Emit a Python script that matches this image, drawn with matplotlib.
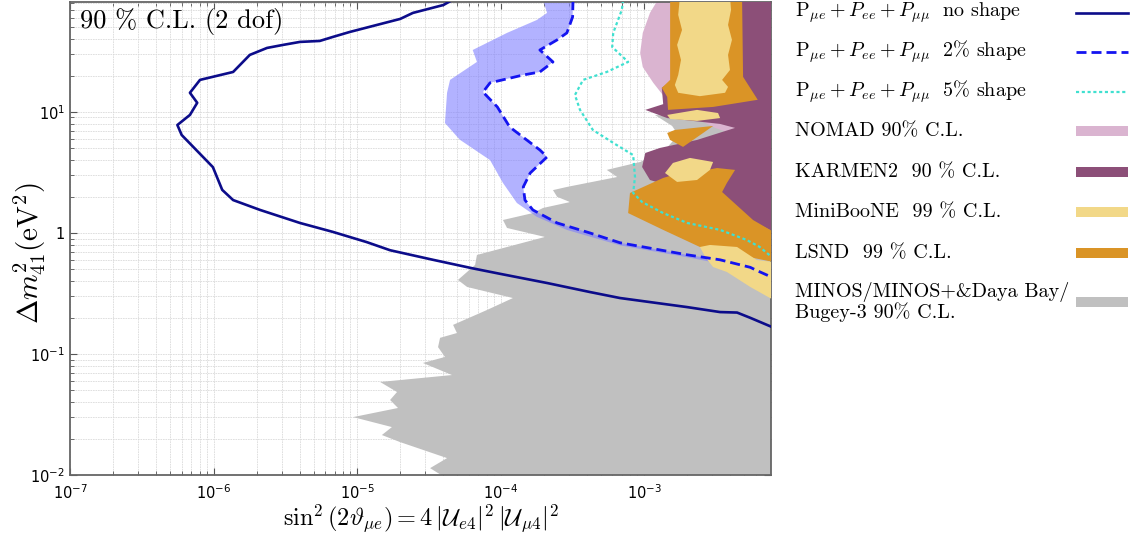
import matplotlib
matplotlib.use("Agg")
import matplotlib.pyplot as plt
from matplotlib.lines import Line2D
from matplotlib.patches import Rectangle
from matplotlib.ticker import NullFormatter

plt.rcParams["mathtext.fontset"] = "cm"
plt.rcParams["axes.unicode_minus"] = False

# ── data (sin^2(2theta_mue), dm^2_41 [eV^2]) ────────────────────────────────

# P_mue + P_ee + P_mumu, no shape
ns_x = [4.6e-5, 4.0e-5, 2.45e-5, 2.0e-5, 1.38e-5, 8.9e-6, 6.8e-6, 5.5e-6, 4.0e-6,
        3.05e-6, 2.36e-6, 1.79e-6, 1.37e-6, 8.05e-7, 6.85e-7, 7.7e-7, 6.85e-7,
        5.6e-7, 6.0e-7, 9.9e-7, 1.15e-6, 1.37e-6, 2.11e-6, 4.0e-6, 6.8e-6,
        1.17e-5, 1.70e-5, 3.39e-5, 6.4e-5, 9.9e-5, 2.11e-4, 4.2e-4, 6.8e-4,
        2.0e-3, 3.39e-3, 4.45e-3, 5.5e-3, 7.8e-3]
ns_y = [84, 76.5, 65.8, 58.7, 52.4, 45.8, 41.7, 38.6, 37.9, 35.8, 33.8, 29.6,
        21.4, 18.4, 14.4, 11.9, 9.45, 7.8, 6.45, 3.5, 2.27, 1.87, 1.55, 1.21,
        1.02, 0.84, 0.72, 0.60, 0.51, 0.46, 0.386, 0.325, 0.29, 0.244, 0.222,
        0.220, 0.199, 0.167]

# 2% shape
s2_x = [3.2e-4, 3.18e-4, 2.9e-4, 2.48e-4, 1.88e-4, 2.32e-4, 1.88e-4, 1.44e-4,
        8.45e-5, 7.55e-5, 9.5e-5, 1.16e-4, 1.88e-4, 2.11e-4, 1.61e-4, 1.44e-4,
        1.48e-4, 1.68e-4, 2.48e-4, 4.2e-4, 6.8e-4, 2.0e-3, 3.39e-3, 5.5e-3,
        6.1e-3, 7.8e-3]
s2_y = [84, 61, 45, 39.4, 32.5, 25.9, 21.4, 20.2, 17.4, 14.6, 11.0, 7.5, 4.85,
        4.25, 3.13, 2.4, 1.87, 1.55, 1.21, 1.0, 0.83, 0.66, 0.60, 0.52, 0.49,
        0.43]

# left edge of the 2% band
band_x = [1.98e-4, 2.11e-4, 1.79e-4, 1.11e-4, 6.4e-5, 6.85e-5, 4.45e-5, 4.24e-5,
          4.1e-5, 5.2e-5, 8.45e-5, 1.04e-4, 1.30e-4, 1.79e-4, 2.9e-4, 6.8e-4,
          2.0e-3, 5.5e-3, 7.8e-3]
band_y = [84, 65.8, 57.5, 45, 32.5, 25.9, 18.4, 14.4, 8.1, 5.9, 4.0, 2.59, 1.77,
          1.36, 1.06, 0.79, 0.63, 0.50, 0.41]

# 5% shape
s5_x = [7.15e-4, 7.0e-4, 6.1e-4, 6.0e-4, 7.75e-4, 5.5e-4, 3.76e-4, 3.3e-4,
        3.58e-4, 4.4e-4, 6.1e-4, 8.4e-4, 8.65e-4, 8.4e-4, 9.7e-4, 1.36e-3,
        2.0e-3, 3.39e-3, 5.2e-3, 6.4e-3, 7.8e-3]
s5_y = [84, 69.7, 45, 34.4, 25.9, 21.4, 18.4, 13.8, 10.4, 7.1, 5.55, 4.4, 2.9,
        2.14, 1.8, 1.46, 1.21, 1.06, 0.875, 0.766, 0.63]

# MINOS/MINOS+ & Daya Bay / Bugey-3
minos_x = [4.45e-5, 3.23e-5, 4.24e-5, 2.0e-5, 1.49e-5, 1.75e-5, 9.4e-6, 1.93e-5,
           1.70e-5, 1.90e-5, 1.45e-5, 4.59e-5, 2.88e-5, 4.10e-5, 3.67e-5,
           3.79e-5, 4.97e-5, 4.67e-5, 8.05e-5, 1.22e-4, 5.85e-5, 5.05e-5,
           6.65e-5, 6.85e-5, 2.04e-4, 1.11e-4, 1.04e-4, 1.68e-4, 1.98e-4,
           3.05e-4, 2.48e-4, 2.32e-4, 2.9e-4, 6.5e-4, 5.5e-4, 9.4e-4, 1.40e-3,
           1.73e-3, 1.57e-3, 1.19e-3, 2.45e-3, 8e-3, 8e-3]
minos_y = [0.009, 0.0114, 0.0138, 0.0187, 0.0214, 0.0249, 0.0301, 0.0358,
           0.0417, 0.0485, 0.0587, 0.067, 0.0843, 0.0945, 0.114, 0.136, 0.149,
           0.174, 0.231, 0.290, 0.358, 0.409, 0.544, 0.658, 0.927, 1.10, 1.28,
           1.46, 1.61, 1.80, 1.99, 2.26, 2.40, 2.90, 3.32, 3.86, 4.85, 6.45,
           7.66, 9.45, 8.9, 10.0, 0.009]

# NOMAD
nomad_x = [1.29e-3, 1.10e-3, 9.8e-4, 9.4e-4, 9.8e-4, 1.16e-3, 1.40e-3, 2.09e-3,
           3.13e-3, 4.10e-3, 6.4e-3, 8e-3, 8e-3]
nomad_y = [90, 65.8, 45, 30.7, 23.5, 17.4, 13.1, 9.45, 7.38, 6.58, 7.38, 8.6, 90]

# KARMEN2
karmen_x = [2.09e-3, 8e-3, 8e-3, 4.67e-3, 2.45e-3, 1.10e-3, 9.7e-4, 1.02e-3,
            1.29e-3, 2.34e-3, 4.31e-3, 3.39e-3, 1.45e-3, 1.02e-3, 1.36e-3,
            1.33e-3, 1.64e-3, 2.09e-3]
karmen_y = [90, 90, 1.02, 1.41, 2.06, 2.74, 3.51, 4.58, 5.04, 5.87, 7.38, 7.96,
            8.9, 10.4, 11.6, 15.8, 19.1, 22.2]

# LSND (three islands)
lsnd_top_x = [1.52e-3, 1.52e-3, 1.33e-3, 1.45e-3, 1.47e-3, 3.03e-3, 6.2e-3,
              4.90e-3, 4.82e-3]
lsnd_top_y = [90, 18.4, 15.8, 13.3, 10.4, 11.0, 12.6, 19.5, 90]
lsnd_mid_x = [1.45e-3, 1.64e-3, 3.03e-3, 2.58e-3, 1.87e-3, 1.52e-3]
lsnd_mid_y = [6.7, 7.1, 7.66, 6.7, 5.14, 5.87]
lsnd_low_x = [7.75e-4, 7.98e-4, 1.36e-3, 1.78e-3, 2.75e-3, 3.23e-3, 4.31e-3,
              3.78e-3, 3.50e-3, 5.75e-3, 8e-3, 8e-3, 2.45e-3, 1.36e-3]
lsnd_low_y = [1.46, 2.14, 2.85, 3.13, 3.32, 3.44, 3.32, 2.59, 2.18, 1.28, 1.02,
              0.575, 0.766, 1.06]

# MiniBooNE (four islands)
mb_top_x = [1.78e-3, 1.73e-3, 1.84e-3, 1.70e-3, 1.81e-3, 1.73e-3, 1.64e-3,
            1.73e-3, 2.45e-3, 3.67e-3, 3.85e-3, 3.50e-3, 3.97e-3, 3.85e-3,
            4.10e-3, 3.85e-3, 4.04e-3, 3.97e-3]
mb_top_y = [90, 63.4, 47.6, 35.8, 26.9, 20.2, 16.7, 14.4, 13.5, 14.4, 16.1,
            18.4, 22.2, 29.6, 39.4, 52.4, 69.7, 90]
mb_mid_x = [1.45e-3, 2.34e-3, 3.28e-3, 3.39e-3, 2.34e-3, 1.52e-3]
mb_mid_y = [9.45, 10.4, 9.8, 8.9, 8.43, 8.75]
mb_low_x = [1.40e-3, 1.59e-3, 2.09e-3, 3.03e-3, 2.88e-3, 2.34e-3, 1.70e-3]
mb_low_y = [3.13, 3.79, 4.17, 3.86, 3.32, 2.74, 2.64]
mb_tail_x = [2.45e-3, 2.88e-3, 4.45e-3, 6.1e-3, 8e-3, 8e-3, 5.5e-3, 3.78e-3,
             3.03e-3, 2.7e-3]
mb_tail_y = [0.766, 0.796, 0.766, 0.598, 0.575, 0.279, 0.358, 0.476, 0.523,
             0.621]

x_ticks = [1e-7, 1e-6, 1e-5, 1e-4, 1e-3]
x_ticklabels = [r"$\mathdefault{10^{-7}}$", r"$\mathdefault{10^{-6}}$",
                r"$\mathdefault{10^{-5}}$", r"$\mathdefault{10^{-4}}$",
                r"$\mathdefault{10^{-3}}$"]
y_ticks = [1e-2, 1e-1, 1, 10]
y_ticklabels = [r"$\mathdefault{10^{-2}}$", r"$\mathdefault{10^{-1}}$",
                r"$\mathdefault{1}$", r"$\mathdefault{10^{1}}$"]

# ── style ────────────────────────────────────────────────────────────────────
C_NS     = "#0c0c8a"
C_S2     = "#1414f0"
C_S5     = "#40e0d0"
C_BAND   = "#7f7fff"
C_MINOS  = "#c0c0c0"
C_NOMAD  = "#dab4d0"
C_KARMEN = "#8c4f78"
C_MB     = "#f2d888"
C_LSND   = "#da9426"

fig = plt.figure(figsize=(11.31, 5.39), dpi=100)
ax = fig.add_axes([0.0619, 0.1187, 0.6198, 0.8776])
ax.set_xscale("log")
ax.set_yscale("log")
ax.set_xlim(1e-7, 7.67e-3)
ax.set_ylim(1e-2, 81)

ax.set_axisbelow(True)
ax.grid(True, which="both", color="#dadada", lw=0.6, ls=(0, (2, 1)))

ax.fill(minos_x, minos_y, color=C_MINOS, lw=0, zorder=1)
ax.fill(band_x + s2_x[::-1], band_y + s2_y[::-1], color=C_BAND, alpha=0.6, lw=0, zorder=2)
ax.fill(nomad_x, nomad_y, color=C_NOMAD, lw=0, zorder=2)
ax.fill(karmen_x, karmen_y, color=C_KARMEN, lw=0, zorder=3)
for xs, ys in [(lsnd_top_x, lsnd_top_y), (lsnd_mid_x, lsnd_mid_y), (lsnd_low_x, lsnd_low_y)]:
    ax.fill(xs, ys, color=C_LSND, lw=0, zorder=4)
for xs, ys in [(mb_top_x, mb_top_y), (mb_mid_x, mb_mid_y), (mb_low_x, mb_low_y), (mb_tail_x, mb_tail_y)]:
    ax.fill(xs, ys, color=C_MB, lw=0, zorder=5)

ax.plot(ns_x, ns_y, color=C_NS, lw=1.9, zorder=8)
ax.plot(s2_x, s2_y, color=C_S2, lw=2.0, dashes=(3.6, 1.8), zorder=8)
ax.plot(s5_x, s5_y, color=C_S5, lw=1.6, dashes=(1.4, 1.2), zorder=8)

ax.set_xticks(x_ticks, x_ticklabels)
ax.set_yticks(y_ticks, y_ticklabels)
ax.xaxis.set_minor_formatter(NullFormatter())
ax.yaxis.set_minor_formatter(NullFormatter())
ax.tick_params(which="both", direction="in", top=True, right=True,
               color="#555555", labelsize=10.5)
ax.tick_params(which="major", length=5)
ax.tick_params(which="minor", length=3)
ax.tick_params(axis="x", pad=6)
for sp in ax.spines.values():
    sp.set_color("#666666")
    sp.set_linewidth(1.3)

ax.set_xlabel(r"$\sin^2(2\vartheta_{\mu e}) = 4\,|\mathcal{U}_{e4}|^2\,|\mathcal{U}_{\mu 4}|^2$",
              fontsize=17.5)
ax.xaxis.set_label_coords(0.5, -0.06)
ax.set_ylabel(r"$\Delta m^2_{41}(\mathrm{eV}^2)$", fontsize=21)
ax.yaxis.set_label_coords(-0.032, 0.47)

ax.text(0.014, 0.988, "90 % C.L. (2 dof)", transform=ax.transAxes,
        ha="left", va="top", fontsize=19, family="cmr10", zorder=10)

# ── legend (labels left, keys right) ─────────────────────────────────────────
P_SUM = r"$\mathrm{P}_{\mu e} + P_{ee} + P_{\mu\mu}\ $"
legend_rows = [
    (P_SUM + " no shape", "line", dict(color=C_NS, lw=1.9), 0.976),
    (P_SUM + " 2% shape", "line", dict(color=C_S2, lw=2.0, dashes=(3.6, 1.8)), 0.904),
    (P_SUM + " 5% shape", "line", dict(color=C_S5, lw=1.6, dashes=(1.4, 1.2)), 0.829),
    ("NOMAD 90% C.L.", "patch", C_NOMAD, 0.757),
    ("KARMEN2  90 % C.L.", "patch", C_KARMEN, 0.681),
    ("MiniBooNE  99 % C.L.", "patch", C_MB, 0.607),
    ("LSND  99 % C.L.", "patch", C_LSND, 0.531),
    ("MINOS/MINOS+&Daya Bay/\nBugey-3 90% C.L.", "patch", C_MINOS, 0.440),
]
x_txt, x0, x1 = 0.703, 0.951, 0.997
for label, kind, style, yc in legend_rows:
    fig.text(x_txt, yc, label, ha="left", va="center", fontsize=14.5,
             family="cmr10", linespacing=1.05)
    if kind == "line":
        fig.add_artist(Line2D([x0, x1], [yc, yc], transform=fig.transFigure, **style))
    else:
        fig.add_artist(Rectangle((x0, yc - 0.0095), x1 - x0, 0.019,
                                 transform=fig.transFigure, color=style, lw=0))

fig.savefig("out.png", dpi=100)
